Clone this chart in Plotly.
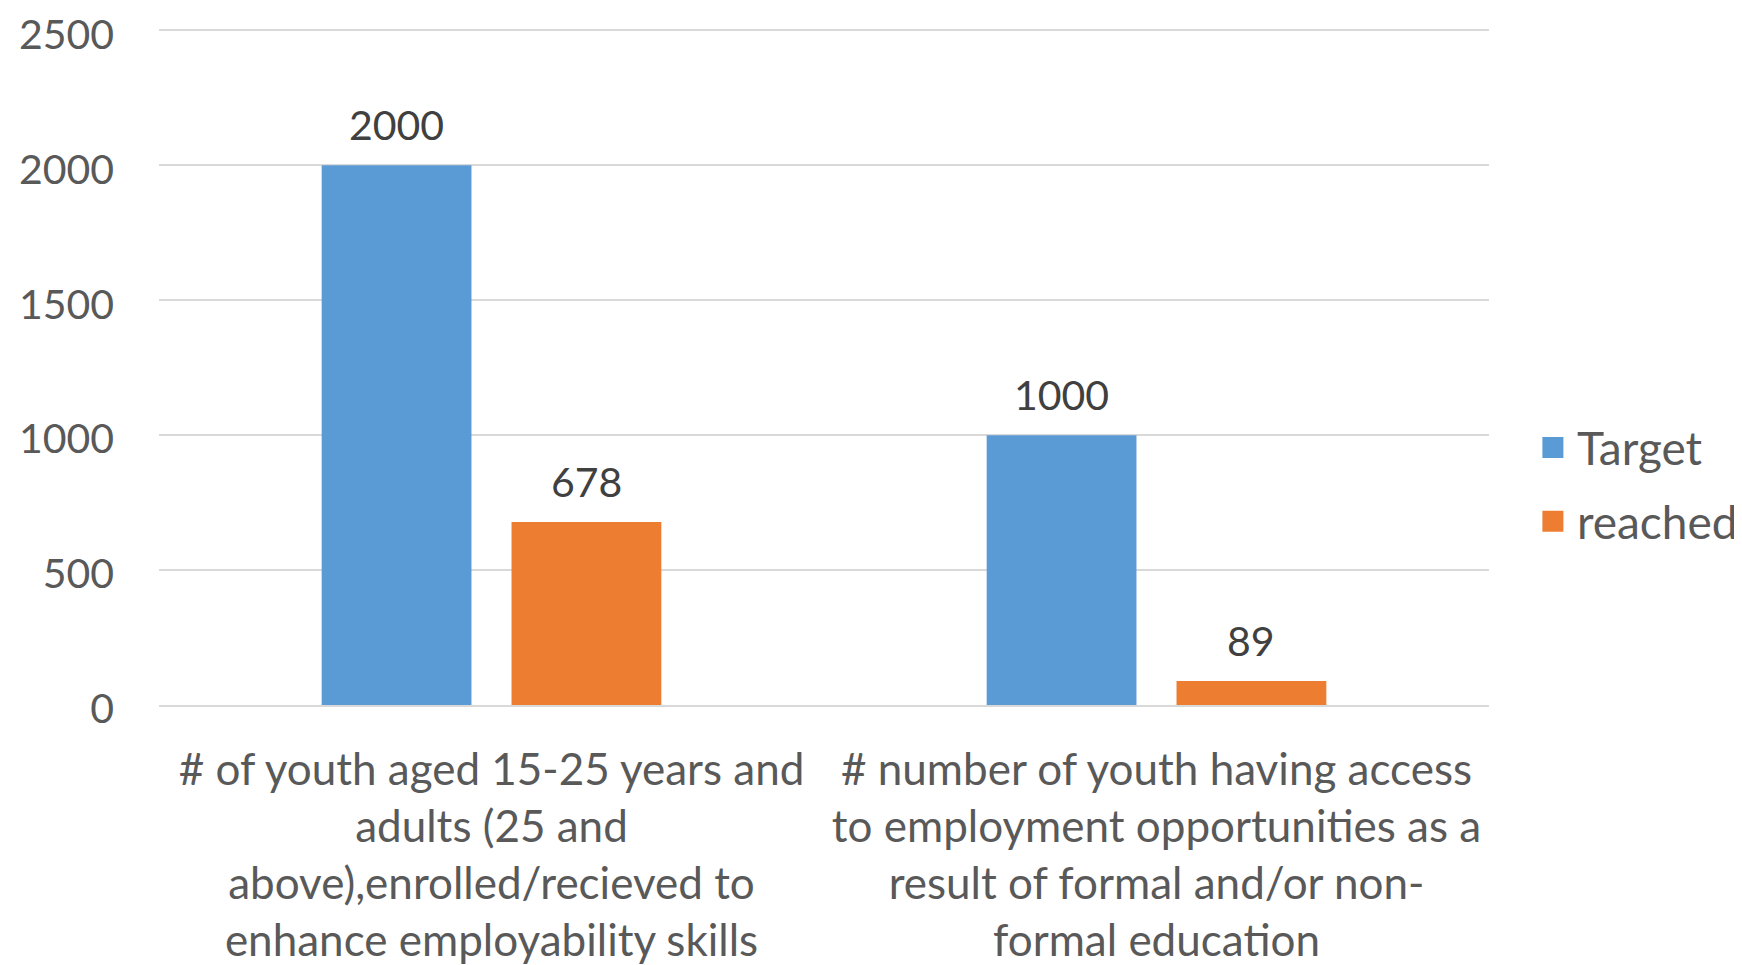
import plotly.graph_objects as go

categories = [
    "# of youth aged 15-25 years and<br>adults (25 and<br>above),enrolled/recieved to<br>enhance employability skills",
    "# number of youth having access<br>to employment opportunities as a<br>result of formal and/or non-<br>formal education",
]
target = [2000, 1000]
reached = [678, 89]
series_names = ["Target", "reached"]
y_ticks = [0, 500, 1000, 1500, 2000, 2500]

BLUE = "#5B9BD5"
ORANGE = "#ED7D31"
FONT = "Lato"
W, H = 1742, 965
ML, MR, MT, MB = 151, 261, 21, 268
BARGAP = 0.429
BARGROUPGAP = 0.211

fig = go.Figure()
for k, (name, vals, col) in enumerate([(series_names[0], target, BLUE), (series_names[1], reached, ORANGE)]):
    fig.add_trace(go.Bar(x=categories, y=vals, name=name, marker_color=col,
                         marker_line_width=0, showlegend=False))
    # legend proxy with bigger square
    fig.add_trace(go.Scatter(x=[None], y=[None], mode="markers", name=name,
                             legendgroup=f"g{k}",
                             marker=dict(symbol="square", size=26, color=col,
                                         line=dict(color=col, width=6))))

# data labels
plot_w = W - ML - MR
cat_w = plot_w / len(categories)
group_w = cat_w * (1 - BARGAP)
slot = group_w / 2
for i, c in enumerate(categories):
    for j, vals in enumerate([target, reached]):
        off = (j - 0.5) * slot
        fig.add_annotation(x=c, y=vals[i], text=str(vals[i]), showarrow=False,
                           xshift=off, yshift=14, yanchor="bottom",
                           font=dict(family=FONT, size=41, color="#404040"))

fig.update_layout(
    width=W, height=H,
    margin=dict(l=ML, r=MR, t=MT, b=MB, autoexpand=False),
    paper_bgcolor="white", plot_bgcolor="white",
    barmode="group", bargap=BARGAP, bargroupgap=BARGROUPGAP,
    font=dict(family=FONT, size=41, color="#595959"),
    legend=dict(x=1.03, y=0.326, xanchor="left", yanchor="middle",
                font=dict(family=FONT, size=46, color="#595959"),
                itemsizing="trace", itemwidth=38, traceorder="grouped",
                tracegroupgap=11, bgcolor="rgba(0,0,0,0)"),
    showlegend=True,
)
fig.update_yaxes(range=[0, 2505], tickvals=y_ticks, showgrid=True,
                 gridcolor="#D9D9D9", gridwidth=2, zeroline=False,
                 showline=False, ticks="", ticklabelstandoff=44,
                 ticklabelshift=4, ticklabeloverflow="allow",
                 tickfont=dict(family=FONT, size=41, color="#595959"))
fig.update_xaxes(showline=True, linecolor="#D9D9D9", linewidth=2, ticks="",
                 showgrid=False, ticklabelstandoff=25,
                 tickfont=dict(family=FONT, size=44, color="#595959"))

fig.write_html("out.html")
